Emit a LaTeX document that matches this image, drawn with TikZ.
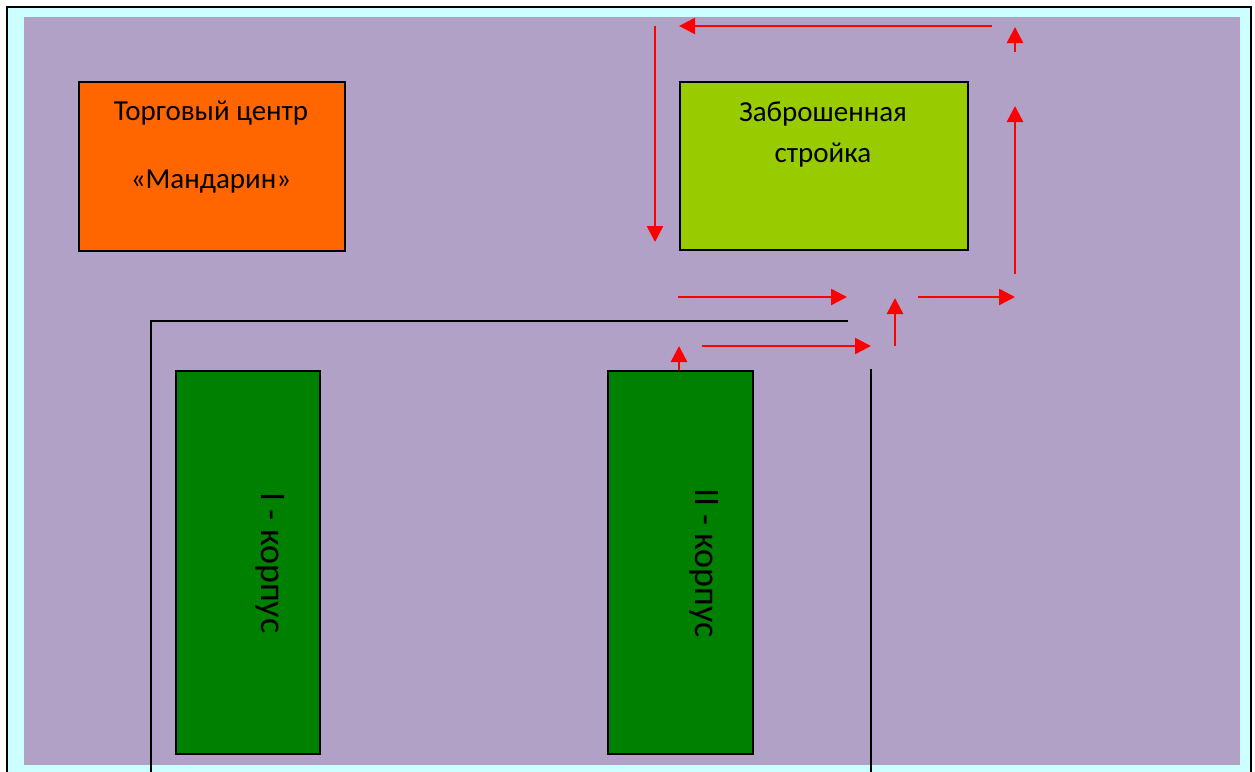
\documentclass[tikz,border=0pt]{standalone}
\usepackage{fontspec}
\setmainfont{Carlito}
\usetikzlibrary{arrows.meta,positioning}
\definecolor{skycyan}{HTML}{CCFFFF}
\definecolor{lilac}{HTML}{B2A1C7}
\definecolor{tangerine}{HTML}{FF6600}
\definecolor{lime}{HTML}{99CC00}
\definecolor{darkgreen}{HTML}{008000}
\tikzset{
  house/.style={draw=black, line width=1.5pt, inner sep=0pt, anchor=north west},
  label text/.style={anchor=base, font=\fontsize{29}{35}\selectfont},
  block text/.style={rotate=-90, font=\fontsize{36}{42}\selectfont},
  way/.style={draw=red, line width=2.6pt, -{Triangle[length=16pt,width=16pt]}},
  fence/.style={draw=black, line width=1.6pt}
}
\begin{document}
\begin{tikzpicture}[x=1pt,y=-1pt]
  \useasboundingbox (0,0) rectangle (1255,771);
  \fill[white] (0,0) rectangle (1255,771);
  \draw[fill=skycyan, line width=2.2pt] (7,7) rectangle (1251,790);
  \fill[lilac] (24,17) rectangle (1240,765);
% buildings
  \node[house, fill=tangerine, minimum width=266pt, minimum height=169pt] (mall) at (78,81) {};
  \node[label text] (mall1) at (211,120) {Торговый центр};
  \node[label text] (mall2) at (211,188) {«Мандарин»};
  \node[house, fill=lime, minimum width=288pt, minimum height=168pt] (site) at (679,81) {};
  \node[label text] (site1) at (823,121) {Заброшенная};
  \node[label text] (site2) at (823,162) {стройка};
  \node[house, fill=darkgreen, minimum width=144pt, minimum height=383pt] (blockA) at (175,370) {};
  \node[block text] (blockAtxt) at (270,563) {I - корпус};
  \node[house, fill=darkgreen, minimum width=145pt, minimum height=383pt] (blockB) at (607,370) {};
  \node[block text] (blockBtxt) at (704,563) {II - корпус};
% fence
  \coordinate (f1) at (848,321);
  \coordinate (f2) at (151,321);
  \coordinate (f3) at (151,790);
  \coordinate (f4) at (871,369);
  \coordinate (f5) at (871,790);
  \draw[fence] (f1) -- (f2) -- (f3);
  \draw[fence] (f4) -- (f5);
% route
  \coordinate (r1) at (992,26);
  \coordinate (r2) at (679,26);
  \coordinate (r3) at (655,26);
  \coordinate (r4) at (655,242);
  \coordinate (r5) at (1015,52);
  \coordinate (r6) at (1015,27);
  \coordinate (r7) at (1015,274);
  \coordinate (r8) at (1015,106);
  \coordinate (r9) at (678,297);
  \coordinate (r10) at (847,297);
  \coordinate (r11) at (918,297);
  \coordinate (r12) at (1015,297);
  \coordinate (r13) at (895,346);
  \coordinate (r14) at (895,298);
  \coordinate (r15) at (702,346);
  \coordinate (r16) at (871,346);
  \coordinate (r17) at (679,370);
  \coordinate (r18) at (679,346);
  \draw[way] (r1) -- (r2);
  \draw[way] (r3) -- (r4);
  \draw[way] (r5) -- (r6);
  \draw[way] (r7) -- (r8);
  \draw[way] (r9) -- (r10);
  \draw[way] (r11) -- (r12);
  \draw[way] (r13) -- (r14);
  \draw[way] (r15) -- (r16);
  \draw[way] (r17) -- (r18);
\end{tikzpicture}
\end{document}
